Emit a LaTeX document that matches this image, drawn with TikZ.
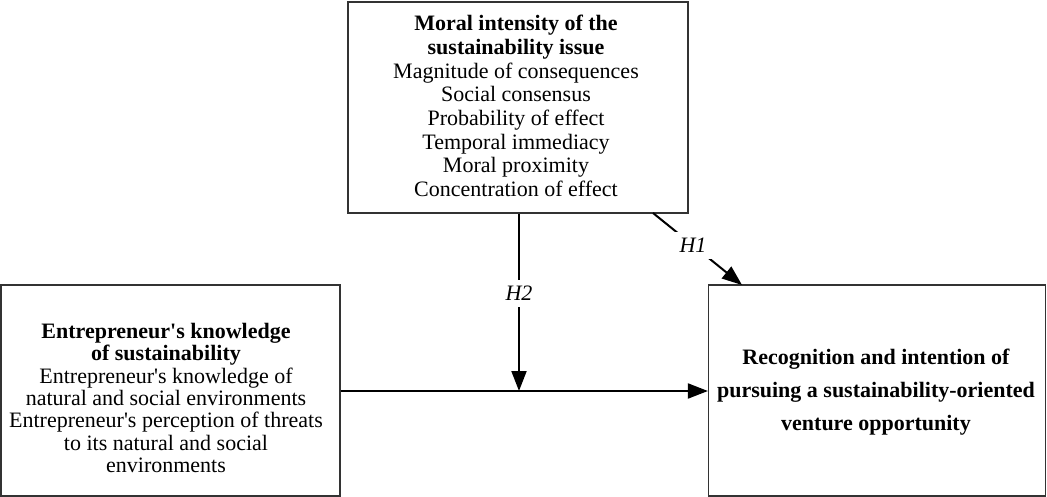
\documentclass[tikz,border=0pt]{standalone}
\usepackage{fontspec}
\setmainfont{Liberation Serif}
\usetikzlibrary{arrows.meta}
\newcommand{\apos}{\textquotesingle}
\tikzset{
  box/.style={draw=black!80, line width=1.2pt, inner sep=0pt},
  txt/.style={align=center, inner sep=0pt, font=\fontsize{22}{23.7}\selectfont},
  conn/.style={line width=2pt, -{Triangle[length=20pt,width=15pt]}},
  hlab/.style={fill=white, inner xsep=6pt, inner ysep=6pt, font=\fontsize{22}{24}\selectfont\itshape}
}
\begin{document}
\begin{tikzpicture}[x=1pt,y=-1pt]
\useasboundingbox (0,0) rectangle (1047,497);
% boxes
\node[box, minimum width=340pt, minimum height=211pt] (moral) at (518,107.5) {};
\node[box, minimum width=339pt, minimum height=211pt] (know) at (170.5,390.5) {};
\node[box, minimum width=337pt, minimum height=211pt] (goal) at (877,390.5) {};
% texts
\node[txt] (moraltxt) at (516,106) {\textbf{Moral intensity of the}\\\textbf{sustainability issue}\\Magnitude of consequences\\Social consensus\\Probability of effect\\Temporal immediacy\\Moral proximity\\Concentration of effect};
\node[txt, font=\fontsize{22}{22.3}\selectfont] (knowtxt) at (166,398) {\textbf{Entrepreneur\apos s knowledge}\\\textbf{of sustainability}\\Entrepreneur\apos s knowledge of\\natural and social environments\\Entrepreneur\apos s perception of threats\\to its natural and social\\environments};
\node[txt, font=\fontsize{22}{33}\selectfont\bfseries] (goaltxt) at (876,392) {Recognition and intention of\\pursuing a sustainability-oriented\\venture opportunity};
% connectors
\coordinate (j) at (519,391);
\coordinate (h1s) at (653,213);
\coordinate (h1e) at (742,285);
\draw[conn] (moral.south -| j) -- node[hlab, pos=0.45] (h2) {H2} (j);
\draw[conn] (know.east |- j) -- (goal.west |- j);
\draw[conn] (h1s) -- node[hlab, pos=0.45] (h1) {H1} (h1e);
\end{tikzpicture}
\end{document}
